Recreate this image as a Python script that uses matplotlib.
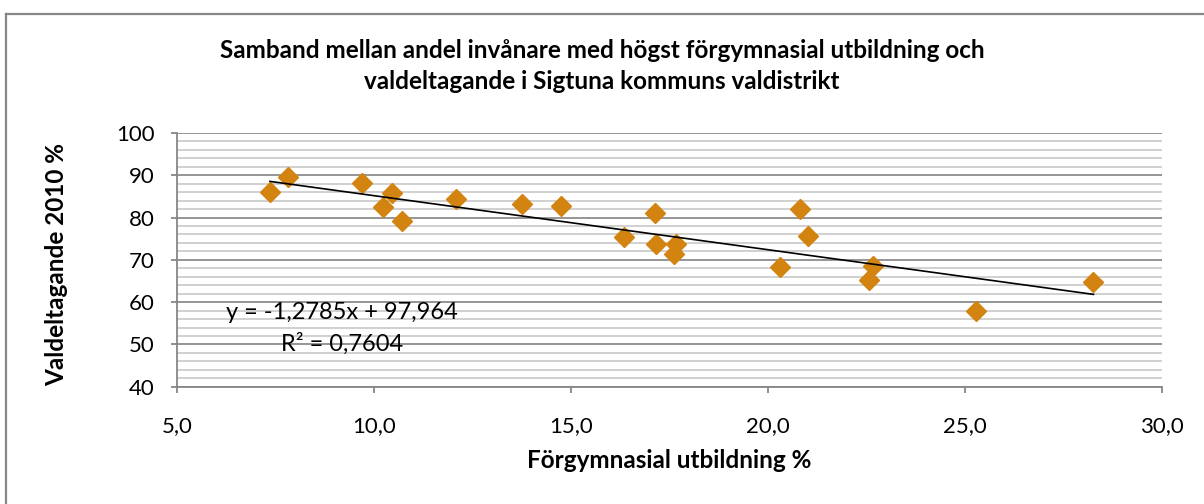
import numpy as np
import matplotlib.pyplot as plt
from matplotlib.ticker import MultipleLocator, FuncFormatter
from matplotlib.lines import Line2D

plt.rcParams['font.family'] = ['Lato', 'DejaVu Sans']

# andel med högst förgymnasial utbildning (%) och valdeltagande 2010 (%)
forgymnasial = [7.36, 7.82, 9.70, 10.46, 10.24, 10.70, 12.08, 13.76, 14.74,
                16.34, 17.14, 17.16, 17.66, 17.61, 20.30, 20.80, 21.01,
                22.66, 22.56, 25.27, 28.26]
valdeltagande = [86.0, 89.6, 88.1, 85.8, 82.4, 79.2, 84.5, 83.1, 82.7,
                 75.4, 81.1, 73.7, 73.8, 71.5, 68.3, 82.0, 75.7,
                 68.5, 65.3, 57.9, 64.7]
# trendlinje (linjär) enligt diagrammet
slope = -1.2785
intercept = 97.964
r2 = 0.7604

orange = '#D3830F'
gray = '#868686'

fig = plt.figure(figsize=(12.04, 5.04), dpi=100)
ax = fig.add_axes([177 / 1204, 117.3 / 504, 985 / 1204, 253.7 / 504])

# gridlines
ax.set_axisbelow(True)
ax.yaxis.set_major_locator(MultipleLocator(10))
ax.yaxis.set_minor_locator(MultipleLocator(2))
ax.xaxis.set_major_locator(MultipleLocator(5))
ax.grid(axis='y', which='major', color='#8c8c8c', lw=1.3)
ax.grid(axis='y', which='minor', color='#c4c4c4', lw=1.1)

ax.plot(forgymnasial, valdeltagande, linestyle='none', marker='D', ms=10.5,
        color=orange, mec=orange, zorder=3)

xs = np.array([min(forgymnasial), max(forgymnasial)])
ax.plot(xs, slope * xs + intercept, color='black', lw=1.2, zorder=4)

ax.set_xlim(5, 30)
ax.set_ylim(40, 100)

comma = lambda fmt: FuncFormatter(lambda v, p: (fmt % v).replace('.', ','))
ax.xaxis.set_major_formatter(comma('%.1f'))
ax.yaxis.set_major_formatter(comma('%.0f'))

for s in ['top', 'right']:
    ax.spines[s].set_visible(False)
for s in ['left', 'bottom']:
    ax.spines[s].set_color(gray)
    ax.spines[s].set_linewidth(1.3)
ax.tick_params(which='major', direction='out', length=4, width=1.3,
               color=gray, labelsize=16, labelcolor='black')
ax.tick_params(axis='x', pad=17)
ax.tick_params(axis='y', pad=12)
ax.tick_params(which='minor', length=0)

eq = 'y = ' + ('%.4f' % slope).replace('.', ',') + 'x + ' + \
     ('%.3f' % intercept).replace('.', ',') + '\nR² = ' + ('%.4f' % r2).replace('.', ',')
ax.text(0.1675, 0.229, eq, transform=ax.transAxes, ha='center', va='center',
        fontsize=17, linespacing=1.55, zorder=5)

fig.text(0.5, 1 - 66 / 504,
         'Samband mellan andel invånare med högst förgymnasial utbildning och\n'
         'valdeltagande i Sigtuna kommuns valdistrikt',
         ha='center', va='center', fontsize=17.5, fontweight='bold', linespacing=1.47)
fig.text(669 / 1204, 1 - 461 / 504, 'Förgymnasial utbildning %', ha='center',
         va='center', fontsize=17.5, fontweight='bold')
fig.text(57 / 1204, 1 - 264 / 504, 'Valdeltagande 2010 %', ha='center',
         va='center', rotation=90, fontsize=17.5, fontweight='bold')

# ram runt diagrammet (bara vänster och övre kant syns)
fig.add_artist(Line2D([6 / 1204, 6 / 1204], [0, 1 - 14 / 504], color=gray, lw=1.6,
                      transform=fig.transFigure))
fig.add_artist(Line2D([6 / 1204, 1], [1 - 14 / 504, 1 - 14 / 504], color=gray, lw=1.6,
                      transform=fig.transFigure))

fig.savefig('out.png', dpi=100)
